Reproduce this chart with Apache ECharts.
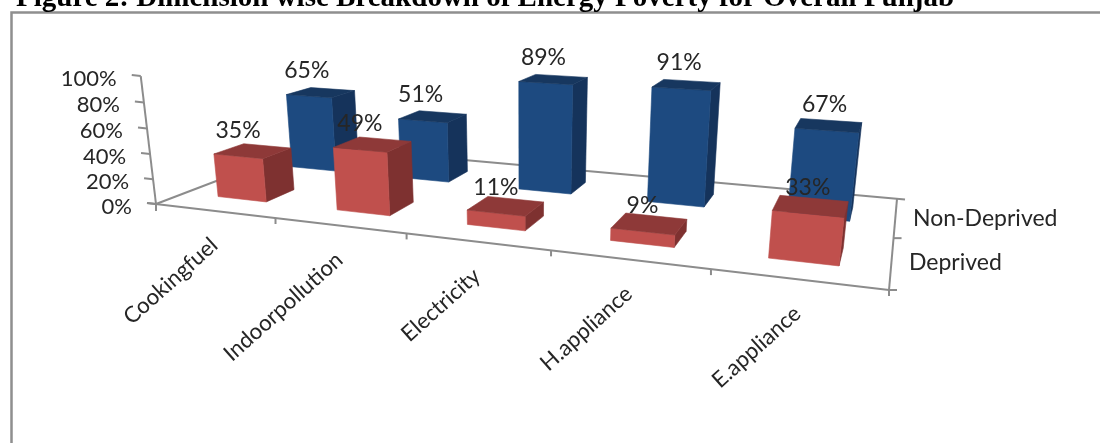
<!DOCTYPE html>
<html>
<head>
<meta charset="utf-8">
<style>html,body{margin:0;padding:0;background:#fff}#chart{width:1100px;height:443px}</style>
<script src="https://cdn.jsdelivr.net/npm/echarts@6/dist/echarts.min.js"></script>
</head>
<body>
<div id="chart"></div>
<script>
const titleText = 'Figure 2: Dimension wise Breakdown of Energy Poverty for Overall Punjab';
const categories = ['Cookingfuel', 'Indoorpollution', 'Electricity', 'H.appliance', 'E.appliance'];
const depthLabels = ['Deprived', 'Non-Deprived'];
const deprived = [35, 49, 11, 9, 33];
const nonDeprived = [65, 51, 89, 91, 67];
const percentTicks = [0, 20, 40, 60, 80, 100];

// Floor corners of the 3D box on screen and the vanishing point of its verticals.
const FLOOR = { o: [156, 204], x: [889, 290], xz: [897, 198.8], z: [308, 146] };
const VERT_VP = [525, 3300];
const VERT_K = -0.0397;

// Unit square -> quad homography for the floor plane.
const H = (function () {
  const [x0, y0] = FLOOR.o, [x1, y1] = FLOOR.x, [x2, y2] = FLOOR.xz, [x3, y3] = FLOOR.z;
  const dx1 = x1 - x2, dx2 = x3 - x2, sx = x0 - x1 + x2 - x3;
  const dy1 = y1 - y2, dy2 = y3 - y2, sy = y0 - y1 + y2 - y3;
  const det = dx1 * dy2 - dx2 * dy1;
  const g = (sx * dy2 - dx2 * sy) / det;
  const h = (dx1 * sy - sx * dy1) / det;
  return { a: x1 - x0 + g * x1, b: x3 - x0 + h * x3, c: x0, d: y1 - y0 + g * y1, e: y3 - y0 + h * y3, f: y0, g, h };
})();

// Project a box coordinate: u along categories, w into depth, v up (all 0..1).
function project(u, w, v) {
  const X = H.a * u + H.b * w + H.c + VERT_K * VERT_VP[0] * v;
  const Y = H.d * u + H.e * w + H.f + VERT_K * VERT_VP[1] * v;
  const W = H.g * u + H.h * w + 1 + VERT_K * v;
  return [X / W, Y / W];
}

const FONT = '"Lato", "Noto Sans", sans-serif';
const INK = '#262626';
const AXIS = '#8c8c8c';
const BAR_HALF_U = 0.0415;   // half footprint along the category axis
const BAR_HALF_W = 0.09;     // half footprint along the depth axis

function text(str, x, y, opts) {
  const o = opts || {};
  return {
    type: 'text', x, y, rotation: o.rotation || 0, z2: 100,
    style: { text: str, x: 0, y: 0, fill: INK, font: (o.size || 23) + 'px ' + FONT,
      align: o.align || 'center', verticalAlign: 'middle' }
  };
}
function line(a, b, width) {
  return { type: 'line', z2: 0,
    shape: { x1: a[0], y1: a[1], x2: b[0], y2: b[1] },
    style: { stroke: AXIS, lineWidth: width || 2 } };
}
function poly(points, fill, z2) {
  return { type: 'polygon', z2, shape: { points }, style: { fill, stroke: fill, lineWidth: 0.6 } };
}

// Scale position -> normalised box coordinates through the hidden cartesian axes.
function toBox(params, api, cat, value) {
  const r = params.coordSys;
  const p = api.coord([cat, value]);
  return { u: (p[0] - r.x) / r.width, v: (r.y + r.height - p[1]) / r.height };
}

function barRenderer(depthCentre, colors, z2, labelDx) {
  return function (params, api) {
    const cat = api.value(0), val = api.value(1);
    const { u, v } = toBox(params, api, cat, val);
    const u0 = u - BAR_HALF_U, u1 = u + BAR_HALF_U;
    const w0 = depthCentre - BAR_HALF_W, w1 = depthCentre + BAR_HALF_W;
    const front = [project(u0, w0, 0), project(u1, w0, 0), project(u1, w0, v), project(u0, w0, v)];
    const side = [project(u1, w0, 0), project(u1, w1, 0), project(u1, w1, v), project(u1, w0, v)];
    const top = [project(u0, w0, v), project(u1, w0, v), project(u1, w1, v), project(u0, w1, v)];
    const anchor = project(u, w0, v);
    return { type: 'group', children: [
      poly(side, colors.side, z2),
      poly(front, colors.front, z2),
      poly(top, colors.top, z2),
      text(val + '%', anchor[0] + labelDx, anchor[1] - 26)
    ] };
  };
}

function renderPercentAxis(params, api) {
  const pct = api.value(0);
  const { v } = toBox(params, api, 0, pct);
  const base = project(0, 0, v);
  return { type: 'group', children: [
    line(base, [base[0] - 9, base[1] - 1]),
    text(pct + '%', base[0] - 24, base[1] + 2.5, { align: 'right', size: 22 })
  ] };
}

function renderCategoryAxis(params, api) {
  const i = api.value(0);
  const { u } = toBox(params, api, i, 0);
  const half = api.size([1, 0])[0] / params.coordSys.width / 2;
  const tickAt = project(u + half, 0, 0);
  const mid = project(u, 0, 0);
  return { type: 'group', children: [
    line(tickAt, [tickAt[0], tickAt[1] + 6]),
    text(categories[i], mid[0], mid[1] + 31, { align: 'right', rotation: 0.73, size: 22.2 })
  ] };
}

function renderFrame() {
  const o = project(0, 0, 0), top = project(0, 0, 1);
  const fr = project(1, 0, 0), br = project(1, 1, 0), bl = project(0, 1, 0);
  const midR = project(1, 0.5, 0);
  return { type: 'group', children: [
    line(top, o),
    line([o[0] - 9, o[1] - 1], fr),
    line(o, bl),
    line(bl, [br[0] + 8, br[1] + 0.7]),
    line(fr, br),
    line(midR, [midR[0] + 8, midR[1]]),
    line(fr, [fr[0] + 8, fr[1]]),
    line(o, [o[0], o[1] + 7]),
    text(depthLabels[1], 913, 219, { align: 'left' }),
    text(depthLabels[0], 909, 263, { align: 'left' })
  ] };
}

const chart = echarts.init(document.getElementById('chart'), null, { renderer: 'canvas' });
chart.setOption({
  animation: false,
  backgroundColor: '#ffffff',
  title: {
    text: titleText, left: 11, top: -21,
    textStyle: { fontFamily: '"Liberation Serif", serif', fontWeight: 'bold', fontSize: 29, color: '#000' }
  },
  graphic: [{
    type: 'rect', silent: true, z: 0,
    shape: { x: 11.5, y: 12.5, width: 1200, height: 600 },
    style: { fill: 'none', stroke: '#8f8f8f', lineWidth: 2.5 }
  }],
  grid: { left: 0, right: 0, top: 0, bottom: 0 },
  xAxis: { type: 'category', data: categories, show: false },
  yAxis: { type: 'value', min: 0, max: 100, interval: 20, show: false },
  series: [
    { name: 'frame', type: 'custom', clip: false, silent: true, renderItem: renderFrame, data: [[0, 0]] },
    { name: 'percent axis', type: 'custom', clip: false, silent: true, renderItem: renderPercentAxis,
      data: percentTicks.map(t => [t]), encode: { x: -1, y: 0 } },
    { name: 'category axis', type: 'custom', clip: false, silent: true, renderItem: renderCategoryAxis,
      data: categories.map((c, i) => [i]), encode: { x: 0, y: -1 } },
    { name: depthLabels[1], type: 'custom', clip: false, silent: true,
      renderItem: barRenderer(0.735, { front: '#1d4a80', side: '#15335b', top: '#17375f' }, 1, -2),
      data: nonDeprived.map((v, i) => [i, v]), encode: { x: 0, y: 1 } },
    { name: depthLabels[0], type: 'custom', clip: false, silent: true,
      renderItem: barRenderer(0.25, { front: '#c0504d', side: '#7e3130', top: '#8e3938' }, 2, 0),
      data: deprived.map((v, i) => [i, v]), encode: { x: 0, y: 1 } }
  ]
});
</script>
</body>
</html>
